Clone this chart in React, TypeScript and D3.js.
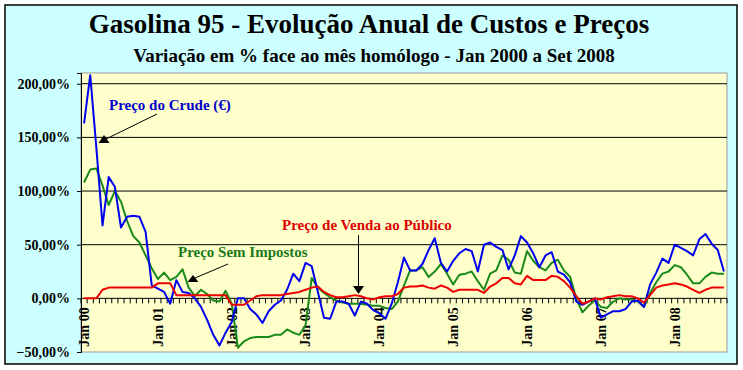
import React, { useEffect, useRef } from 'react';
import * as d3 from 'd3';

// variação % face ao mês homólogo, Jan 2000 .. Set 2008 (105 meses)
const crude = [
  163, 208, 140, 68, 113, 104, 66, 76, 77, 76, 62, 12,
  9, 6, -5, 17, 6, 5, 0, -8, -20, -34, -44, -32,
  -22, 0, 0, -10, -15, -23, -12, -6, -2, 8, 23, 16,
  33, 30, 6, -18, -19, -3, -3, -5, -16, -3, -5, -11,
  -14, -19, -5, 15, 38, 26, 26, 32, 45, 56, 33, 25,
  35, 42, 46, 44, 25, 50, 52, 48, 45, 27, 40, 58,
  52, 42, 29, 40, 43, 25, 22, 15, -3, -6, -3, 0,
  -18, -15, -12, -12, -10, -3, -2, -8, 13, 24, 37, 33,
  50, 47, 44, 40, 55, 60, 51, 45, 25,
];
const semImpostos = [
  108, 120, 121, 105, 87, 100, 90, 72, 58, 52, 40, 28,
  18, 24, 17, 20, 27, 10, 2, 8, 4, -2, -3, 7,
  -5, -46, -40, -37, -36, -36, -36, -34, -34, -29, -32, -34,
  -25, 19, 10, 5, 1, -2, -4, -5, -5, -5, -6, -7,
  -7, -9, -10, -3, 12, 26, 26, 29, 20, 25, 32, 23,
  13, 22, 23, 25, 16, 8, 23, 26, 40, 36, 24, 23,
  44, 35, 29, 26, 33, 36, 26, 20, 0, -13, -7, -2,
  -8, -9, -3, 0, -1, -1, -3, -8, 5, 15, 23, 25,
  31, 29, 22, 14, 14, 20, 24, 23, 23,
];
const pvp = [
  0, 0, 0, 8, 10, 10, 10, 10, 10, 10, 10, 10,
  14, 14, 14, 3, 3, 3, 3, 3, 3, 3, 3, 3,
  -6, -6, -6, -2, 2, 3, 3, 3, 3, 4, 5, 6,
  8, 10, 11, 6, 3, 1, 1, 2, 3, 2, 0, -1,
  1, 2, 2, 4, 10, 11, 11, 12, 10, 9, 12, 10,
  6, 8, 8, 8, 8, 5, 11, 14, 19, 19, 14, 13,
  21, 17, 17, 17, 21, 20, 16, 10, 2, -5, -3, 0,
  -1, 1, 2, 3, 2, 2, 0, -4, 3, 10, 12, 13,
  14, 13, 11, 8, 5, 8, 10, 10, 10,
];
const yearLabels = ['Jan 00', 'Jan 01', 'Jan 02', 'Jan 03', 'Jan 04', 'Jan 05', 'Jan 06', 'Jan 07', 'Jan 08'];
const yTicks = [-50, 0, 50, 100, 150, 200];

const W = 743;
const H = 370;
const FONT = '"Liberation Serif", "Times New Roman", serif';

const App: React.FC = () => {
  const svgRef = useRef<SVGSVGElement>(null);

  useEffect(() => {
    document.body.style.margin = '0';
    if (!svgRef.current) return;
    const svg = d3.select(svgRef.current);
    svg.selectAll('*').remove();

    // moldura exterior
    svg.append('rect')
      .attr('x', 5).attr('y', 5).attr('width', 732).attr('height', 359)
      .attr('fill', '#CCFFFF').attr('stroke', '#000').attr('stroke-width', 1.5);

    const plot = { left: 81, right: 727, top: 73, bottom: 352 };

    const x = d3.scaleBand<number>()
      .domain(d3.range(crude.length))
      .range([plot.left, plot.right])
      .padding(0);
    const cx = (i: number) => (x(i) || 0) + x.bandwidth() / 2;

    const y = d3.scaleLinear()
      .domain([-50, 210])
      .range([plot.bottom, plot.top]);

    svg.append('rect')
      .attr('x', plot.left).attr('y', plot.top)
      .attr('width', plot.right - plot.left).attr('height', plot.bottom - plot.top)
      .attr('fill', '#FFFFCC').attr('stroke', '#9a9a9a').attr('stroke-width', 1);

    // grelha
    svg.append('g')
      .selectAll('line')
      .data(yTicks.filter(t => t > 0))
      .join('line')
      .attr('x1', plot.left).attr('x2', plot.right)
      .attr('y1', d => y(d)).attr('y2', d => y(d))
      .attr('stroke', '#000').attr('stroke-width', 1);

    // eixo Y
    const yAxis = d3.axisLeft(y)
      .tickValues(yTicks)
      .tickSize(4)
      .tickFormat(d => d3.format('.2f')(+d).replace('.', ',') + '%');
    const gy = svg.append('g')
      .attr('transform', `translate(${plot.left},0)`)
      .attr('font-family', FONT)
      .call(yAxis);
    gy.select('.domain').attr('stroke', '#000');
    gy.selectAll('text')
      .attr('font-family', FONT).attr('font-size', 14).attr('font-weight', 'bold')
      .attr('fill', '#000').attr('x', -11);

    // eixo X no zero
    const zeroY = y(0);
    svg.append('line')
      .attr('x1', plot.left).attr('x2', plot.right)
      .attr('y1', zeroY).attr('y2', zeroY)
      .attr('stroke', '#000').attr('stroke-width', 1);
    svg.append('g')
      .selectAll('line')
      .data(d3.range(crude.length + 1))
      .join('line')
      .attr('x1', i => plot.left + i * x.bandwidth())
      .attr('x2', i => plot.left + i * x.bandwidth())
      .attr('y1', zeroY).attr('y2', zeroY + 5)
      .attr('stroke', '#000').attr('stroke-width', 1);

    svg.append('g')
      .selectAll('text')
      .data(yearLabels)
      .join('text')
      .attr('transform', (d, k) => `translate(${cx(k * 12)},${zeroY + 9}) rotate(-90)`)
      .attr('text-anchor', 'end')
      .attr('dy', '0.35em')
      .attr('font-family', FONT).attr('font-size', 14).attr('font-weight', 'bold')
      .attr('fill', '#000')
      .text(d => d);

    // séries
    const line = d3.line<number>()
      .x((d, i) => cx(i))
      .y(d => y(d));
    const series = [
      { values: semImpostos, color: '#1a8a1a' },
      { values: crude, color: '#0000EE' },
      { values: pvp, color: '#EE0000' },
    ];
    series.forEach(s => {
      svg.append('path')
        .datum(s.values)
        .attr('fill', 'none')
        .attr('stroke', s.color)
        .attr('stroke-width', 2)
        .attr('stroke-linejoin', 'round')
        .attr('d', line);
    });

    // anotações
    const label = (txt: string, lx: number, ly: number, color: string) =>
      svg.append('text')
        .attr('x', lx).attr('y', ly)
        .attr('font-family', FONT).attr('font-size', 15).attr('font-weight', 'bold')
        .attr('fill', color)
        .text(txt);

    label('Preço do Crude (€)', 109, 110, '#0000CC');
    svg.append('line').attr('x1', 157).attr('y1', 114).attr('x2', 106).attr('y2', 139)
      .attr('stroke', '#000').attr('stroke-width', 1);
    svg.append('path').attr('d', 'M104,135 L98.5,143 L109.5,143 Z').attr('fill', '#000');

    label('Preço Sem Impostos', 178, 257, '#1a7a1a');
    svg.append('line').attr('x1', 228).attr('y1', 264).attr('x2', 195).attr('y2', 278)
      .attr('stroke', '#000').attr('stroke-width', 1);
    svg.append('path').attr('d', 'M193,275 L187.5,282 L198.5,282 Z').attr('fill', '#000');

    label('Preço de Venda ao Público', 282, 230, '#DD0000');
    svg.append('line').attr('x1', 358.5).attr('y1', 235).attr('x2', 358.5).attr('y2', 287)
      .attr('stroke', '#000').attr('stroke-width', 1);
    svg.append('path').attr('d', 'M358.5,294 L353,286 L364,286 Z').attr('fill', '#000');

    // títulos
    svg.append('text')
      .attr('x', 369).attr('y', 33)
      .attr('text-anchor', 'middle')
      .attr('font-family', FONT).attr('font-size', 27).attr('font-weight', 'bold')
      .attr('fill', '#000')
      .text('Gasolina 95 - Evolução Anual de Custos e Preços');
    svg.append('text')
      .attr('x', 374).attr('y', 62)
      .attr('text-anchor', 'middle')
      .attr('font-family', FONT).attr('font-size', 19).attr('font-weight', 'bold')
      .attr('fill', '#000')
      .text('Variação em % face ao mês homólogo - Jan 2000 a Set 2008');
  }, []);

  return (
    <svg ref={svgRef} width={W} height={H} style={{ display: 'block', background: '#fff' }} />
  );
};

export default App;
